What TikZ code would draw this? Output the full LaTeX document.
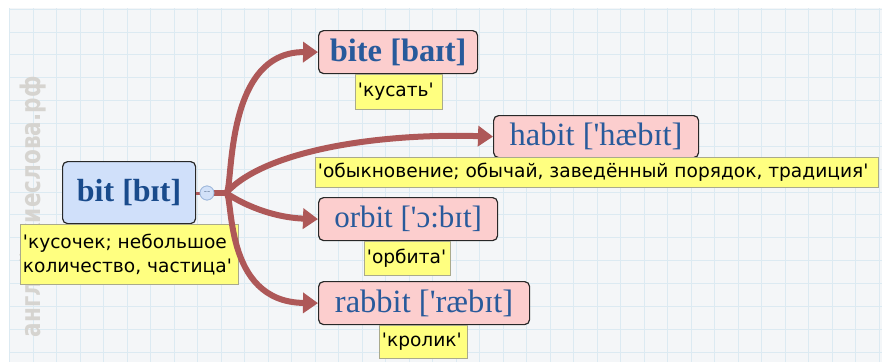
\documentclass[tikz,border=0pt]{standalone}
\usepackage{fontspec}
\usetikzlibrary{arrows.meta}
\newfontfamily\boxfont[Ligatures=TeXOff]{Liberation Serif}
\newfontfamily\labfont[Ligatures=TeXOff]{DejaVu Sans}
\newfontfamily\wmfont{DejaVu Sans}
\definecolor{conn}{RGB}{174,88,88}
\definecolor{pinkfill}{RGB}{252,206,206}
\definecolor{bluefill}{RGB}{208,224,250}
\definecolor{yellowfill}{RGB}{255,255,128}
\definecolor{labborder}{RGB}{170,170,140}
\definecolor{textblue}{RGB}{40,90,155}
\definecolor{bgcol}{RGB}{244,246,248}
\definecolor{gridcol}{RGB}{220,234,242}
\definecolor{wmcol}{RGB}{214,212,208}
\tikzset{
  wordbox/.style={draw={rgb,255:red,40;green,40;blue,40}, line width=1.2pt, rounded corners=5pt,
    fill=pinkfill, anchor=north west, inner sep=0pt, text=textblue,
    font=\boxfont\fontsize{32.5}{36}\selectfont},
  rootbox/.style={wordbox, fill=bluefill, font=\boxfont\bfseries\fontsize{32}{36}\selectfont, text={rgb,255:red,25;green,75;blue,140}},
  labbox/.style={draw=labborder, line width=0.8pt, fill=yellowfill, anchor=north west,
    inner xsep=2.5pt, inner ysep=0pt, text=black, align=left,
    font=\labfont\fontsize{18.6}{24}\selectfont},
  conn/.style={draw=conn, line width=6pt},
  connarrow/.style={conn, -{Triangle[length=15pt,width=20pt]}},
  togcircle/.style={circle, draw={rgb,255:red,160;green,185;blue,220}, fill={rgb,255:red,210;green,225;blue,248}, minimum size=14pt, inner sep=0pt, line width=0.8pt},
  gridline/.style={draw=gridcol, line width=1pt}
}
\begin{document}
\begin{tikzpicture}[x=1pt,y=-1pt]
\useasboundingbox (0,0) rectangle (882,362);
\fill[bgcol] (9,8) rectangle (882,362);
\foreach \i in {0,...,37} \draw[gridline] ({9.5+23.5*\i},8) -- ({9.5+23.5*\i},362);
\foreach \k in {0,...,15} \draw[gridline] (9,{9.13+22.87*\k}) -- (882,{9.13+22.87*\k});
% watermark
\node[rotate=90, text=wmcol, font=\wmfont\bfseries\fontsize{27}{30}\selectfont] (wm) at (33,207) {\scalebox{0.8}[1]{английскиеслова.рф}};
% boxes
\node[rootbox, minimum width=133, minimum height=62] (bit) at (62,161) {bit [bɪt]};
\node[wordbox, font=\boxfont\bfseries\fontsize{32.5}{36}\selectfont, minimum width=159, minimum height=43] (bite) at (318,30) {bite [baɪt]};
\node[wordbox, minimum width=205, minimum height=42] (habit) at (493,115) {habit ['hæbɪt]};
\node[wordbox, font=\boxfont\fontsize{31}{36}\selectfont, minimum width=179, minimum height=43] (orbit) at (318,197) {orbit ['ɔ:bɪt]};
\node[wordbox, minimum width=211, minimum height=43] (rabbit) at (318,281) {rabbit ['ræbɪt]};
% labels
\node[labbox, minimum height=60] (lbit) at (20,224) {\makebox[213pt][l]{'кусочек; небольшое}\\\makebox[213pt][l]{количество, частица'}};
\node[labbox, minimum height=35] (lbite) at (355,74) {\makebox[82pt][l]{'кусать'}};
\node[labbox, minimum height=30] (lhabit) at (315,157) {\makebox[558pt][l]{'обыкновение; обычай, заведённый порядок, традиция'}};
\node[labbox, minimum height=34] (lorbit) at (364,241) {\makebox[81pt][l]{'орбита'}};
\node[labbox, minimum height=33] (lrabbit) at (379,325) {\makebox[83pt][l]{'кролик'}};
% toggle circle and connectors
\node[togcircle] (tog) at (207,193) {};
\coordinate (j) at (226,193);
\draw[conn, line width=3pt] (bit.east |- tog) -- (tog.west);
\draw[conn] (tog.east) -- (j);
\draw[connarrow] (j) .. controls (234,193) and (222,52) .. (bite.west);
\draw[connarrow] (j) .. controls (265,150) and (380,133) .. (habit.west);
\draw[connarrow] (j) .. controls (255,212) and (285,218) .. (orbit.west);
\draw[connarrow] (j) .. controls (234,193) and (222,302) .. (rabbit.west);
\node[togcircle, font=\labfont\fontsize{9}{9}\selectfont, text={rgb,255:red,110;green,130;blue,160}] (tog2) at (tog) {--};
\end{tikzpicture}
\end{document}
